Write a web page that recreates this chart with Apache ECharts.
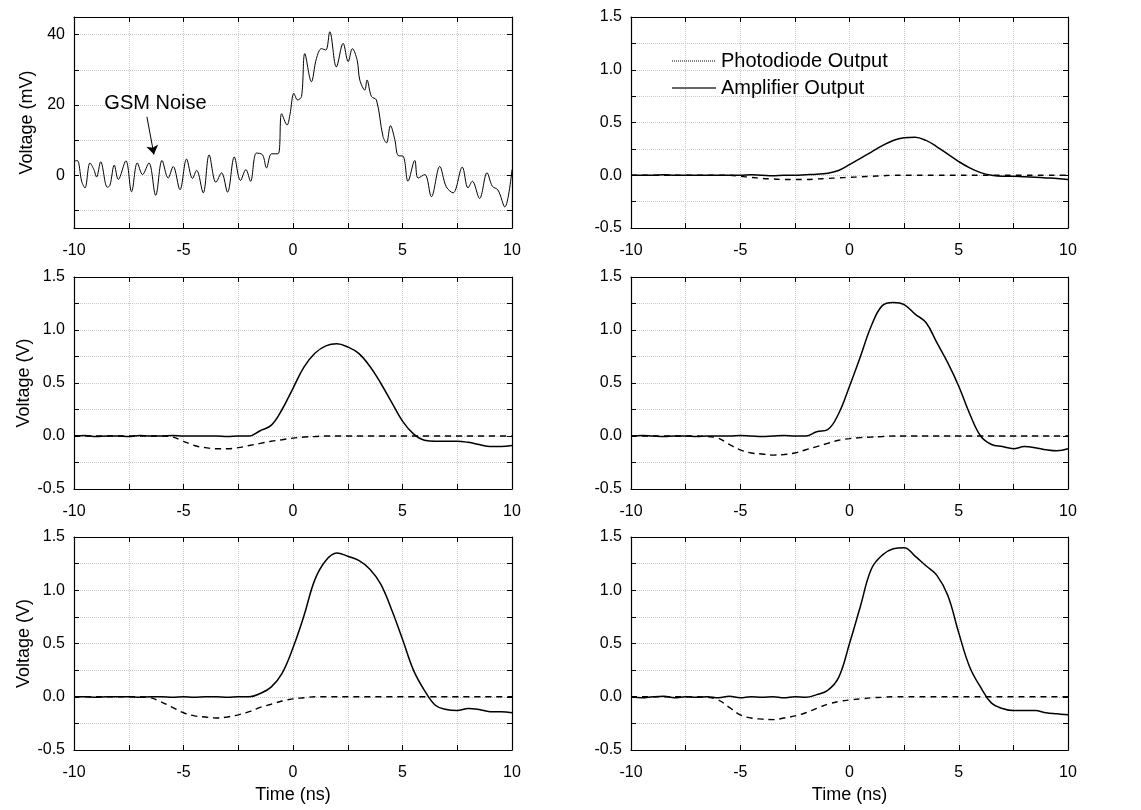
<!DOCTYPE html>
<html>
<head>
<meta charset="utf-8">
<script src="https://cdn.jsdelivr.net/npm/echarts@6/dist/echarts.min.js"></script>
<style>
html,body{margin:0;padding:0;background:#fff;}
#chart{width:1141px;height:810px;}
</style>
</head>
<body>
<div id="chart"></div>
<script>
// ---------- DATA ----------
const xTickLabels = ['-10', '-5', '0', '5', '10'];
const vTickLabels = ['-0.5', '0.0', '0.5', '1.0', '1.5'];
const mvTickLabels = ['0', '20', '40'];

// Panel 1: GSM noise trace (time ns, voltage mV)
const gsmTime = [-10.00,-9.85,-9.65,-9.50,-9.27,-9.09,-8.97,-8.78,-8.48,-8.36,-8.16,-7.98,-7.63,-7.37,-7.11,-6.87,-6.58,-6.27,-5.98,-5.70,-5.47,-5.16,-4.86,-4.59,-4.40,-4.10,-3.83,-3.52,-3.26,-2.99,-2.68,-2.40,-2.15,-1.94,-1.67,-1.39,-1.21,-0.98,-0.68,-0.52,-0.27,-0.14,0.04,0.21,0.39,0.54,0.84,1.07,1.30,1.50,1.68,1.98,2.29,2.52,2.71,2.93,3.05,3.28,3.38,3.58,3.81,4.11,4.27,4.45,4.65,4.80,5.03,5.25,5.56,5.71,6.02,6.32,6.70,7.00,7.31,7.73,7.99,8.19,8.52,8.86,9.10,9.36,9.67,10.00];
const gsmVolt = [4.0,4.2,-1.7,-3.6,3.5,1.6,-0.5,3.8,-3.4,-2.9,2.9,-1.2,4.1,-4.7,3.5,0.2,3.5,-5.7,4.2,-0.8,2.5,-4.1,4.6,-0.9,1.4,-5.0,5.8,-2.0,0.7,-4.8,5.2,-1.5,1.6,-1.7,6.3,5.8,2.1,6.1,6.1,17.5,14.3,17.2,23.3,21.4,22.4,34.6,26.6,33.2,36.0,35.6,40.8,30.8,37.5,32.3,36.0,32.7,27.1,24.2,27.1,22.4,21.4,11.0,9.2,14.1,10.1,5.6,5.4,-1.7,4.2,-0.8,0.2,-6.1,2.5,-3.3,-5.0,2.3,-3.6,-1.7,-6.6,0.7,-3.1,-4.2,-9.0,1.6];

// Panels 2-6: time base (ns)
const time = [-10,-9.5,-9,-8.5,-8,-7.5,-7,-6.5,-6,-5.5,-5,-4.5,-4,-3.5,-3,-2.5,-2,-1.5,-1,-0.5,0,0.5,1,1.5,2,2.5,3,3.5,4,4.5,5,5.5,6,6.5,7,7.5,8,8.5,9,9.5,10];

const amp2 = [0.0,0.0,0.0,0.005,0.0,0.0,0.0,0.0,0.0,0.0,0.0,0.005,0.0,-0.005,0.0,0.0,0.005,0.01,0.02,0.045,0.1,0.16,0.22,0.28,0.33,0.355,0.36,0.33,0.27,0.2,0.13,0.07,0.025,0.0,-0.01,-0.01,-0.015,-0.02,-0.025,-0.03,-0.04];
const pd2  = [0,0,0,0,0,0,0,0,0,0,-0.01,-0.02,-0.03,-0.035,-0.04,-0.04,-0.04,-0.035,-0.03,-0.025,-0.02,-0.015,-0.01,-0.005,0,0,0,0,0,0,0,0,0,0,0,0,0,0,0,0,0];

const amp3 = [0.0,0.005,-0.005,0.0,0.0,-0.005,0.005,0.0,0.0,0.005,0.0,0.0,0.0,0.0,-0.005,0.0,0.0,0.05,0.1,0.25,0.45,0.65,0.78,0.85,0.87,0.84,0.78,0.66,0.5,0.32,0.14,0.02,-0.04,-0.05,-0.05,-0.05,-0.06,-0.08,-0.1,-0.1,-0.09];
const pd3  = [0,0,0,0,0,0,0,0,0,-0.01,-0.05,-0.09,-0.11,-0.12,-0.12,-0.11,-0.09,-0.07,-0.05,-0.035,-0.02,-0.01,-0.005,0,0,0,0,0,0,0,0,0,0,0,0,0,0,0,0,0,0];

const amp4 = [0.0,0.005,0.0,-0.005,0.0,0.0,-0.005,0.0,0.0,0.0,0.005,0.0,-0.005,0.0,0.005,0.0,0.0,0.04,0.06,0.21,0.47,0.75,1.04,1.23,1.26,1.24,1.15,1.07,0.88,0.69,0.47,0.21,0.0,-0.08,-0.1,-0.12,-0.1,-0.11,-0.13,-0.14,-0.12];
const pd4  = [0,0,0,0,0,0,0,-0.005,-0.02,-0.08,-0.13,-0.16,-0.17,-0.18,-0.175,-0.16,-0.13,-0.1,-0.07,-0.04,-0.025,-0.015,-0.01,-0.005,0,0,0,0,0,0,0,0,0,0,0,0,0,0,0,0,0];

const amp5 = [0.0,0.0,-0.005,0.0,0.0,0.0,-0.005,0.0,0.0,-0.005,0.0,-0.005,0.0,0.0,-0.005,0.0,0.0,0.03,0.09,0.22,0.46,0.76,1.1,1.28,1.35,1.32,1.28,1.2,1.06,0.82,0.54,0.25,0.06,-0.08,-0.12,-0.13,-0.11,-0.12,-0.14,-0.14,-0.15];
const pd5  = [0,0,0,0,0,0,0,-0.01,-0.05,-0.1,-0.15,-0.18,-0.19,-0.2,-0.19,-0.17,-0.14,-0.1,-0.07,-0.04,-0.02,-0.01,0,0,0,0,0,0,0,0,0,0,0,0,0,0,0,0,0,0,0];

const amp6 = [0.0,-0.01,0.0,0.005,-0.01,0.0,-0.005,0.0,-0.01,0.005,-0.01,0.0,-0.005,0.0,-0.01,0.0,-0.005,0.02,0.06,0.18,0.5,0.85,1.2,1.33,1.39,1.4,1.32,1.23,1.14,0.95,0.6,0.28,0.09,-0.06,-0.11,-0.13,-0.13,-0.13,-0.15,-0.16,-0.17];
const pd6  = [0,0,0,0,0,0,0,-0.005,-0.03,-0.1,-0.17,-0.2,-0.21,-0.215,-0.2,-0.18,-0.15,-0.11,-0.07,-0.045,-0.03,-0.02,-0.01,-0.005,0,0,0,0,0,0,0,0,0,0,0,0,0,0,0,0,0];

const ampSets = [amp2, amp3, amp4, amp5, amp6];
const pdSets = [pd2, pd3, pd4, pd5, pd6];

// annotation
const noteText = 'GSM Noise';
const noteAt = [-6.28, 20.3];
const arrowFrom = [-6.67, 16.6];
const arrowTo = [-6.35, 5.9];

// ---------- LAYOUT ----------
const FONT = '"Liberation Sans", Arial, sans-serif';
const grids = [
  {left: 74, top: 17, width: 438, height: 211},
  {left: 631, top: 17, width: 437, height: 211},
  {left: 74, top: 277, width: 438, height: 212},
  {left: 631, top: 277, width: 437, height: 212},
  {left: 74, top: 537, width: 438, height: 213},
  {left: 631, top: 537, width: 437, height: 213}
];

const zip = (xs, ys) => xs.map((x, i) => [x, ys[i]]);
const gridLine = {show: true, lineStyle: {color: '#c8c8c8', type: 'dotted', width: 1}};
const tickIn = {show: true, inside: true, length: 5, lineStyle: {color: '#000', width: 1}};
const axLine = {show: true, onZero: false, lineStyle: {color: '#000', width: 1.2}};
const lbl = {color: '#000', fontFamily: FONT, fontSize: 16};
const nameStyle = {color: '#000', fontFamily: FONT, fontSize: 18};

const xAxes = [], yAxes = [], series = [];
grids.forEach((g, i) => {
  const bottomRow = i >= 4;
  xAxes.push({
    type: 'value', gridIndex: i, min: -10, max: 10, interval: 2.5, position: 'bottom',
    axisLine: axLine, axisTick: tickIn, splitLine: gridLine,
    axisLabel: Object.assign({}, lbl, {margin: 15, formatter: v => (xTickLabels.indexOf(String(v)) >= 0 ? String(v) : '')}),
    name: bottomRow ? 'Time (ns)' : '', nameLocation: 'middle', nameGap: 36,
    nameTextStyle: nameStyle
  });
  xAxes.push({
    type: 'value', gridIndex: i, min: -10, max: 10, interval: 2.5, position: 'top',
    axisLine: axLine, axisTick: tickIn, splitLine: {show: false}, axisLabel: {show: false}
  });
  const yName = (i === 0) ? 'Voltage (mV)' : ((i === 2 || i === 4) ? 'Voltage (V)' : '');
  if (i === 0) {
    yAxes.push({
      type: 'value', gridIndex: i, min: -15, max: 45, position: 'left',
      axisLine: axLine,
      axisTick: Object.assign({}, tickIn, {customValues: [-10, 0, 10, 20, 30, 40]}),
      splitLine: gridLine,
      axisLabel: Object.assign({}, lbl, {margin: 9, customValues: [0, 20, 40], formatter: v => (mvTickLabels.indexOf(String(v)) >= 0 ? String(v) : '')}),
      name: yName, nameLocation: 'middle', nameGap: 38,
      nameTextStyle: nameStyle
    });
    yAxes.push({
      type: 'value', gridIndex: i, min: -15, max: 45, position: 'right',
      axisLine: axLine,
      axisTick: Object.assign({}, tickIn, {customValues: [-10, 0, 10, 20, 30, 40]}),
      splitLine: {show: false}, axisLabel: {show: false}
    });
  } else {
    yAxes.push({
      type: 'value', gridIndex: i, min: -0.5, max: 1.5, interval: 0.25, position: 'left',
      axisLine: axLine, axisTick: tickIn, splitLine: gridLine,
      axisLabel: Object.assign({}, lbl, {margin: 9, formatter: v => {
        const s = v.toFixed(1); return (vTickLabels.indexOf(s) >= 0 && Math.abs(v * 2 - Math.round(v * 2)) < 1e-6) ? s : '';
      }}),
      name: yName, nameLocation: 'middle', nameGap: 38,
      nameTextStyle: nameStyle
    });
    yAxes.push({
      type: 'value', gridIndex: i, min: -0.5, max: 1.5, interval: 0.25, position: 'right',
      axisLine: axLine, axisTick: tickIn, splitLine: {show: false}, axisLabel: {show: false}
    });
  }
});

// Panel 1 series
series.push({
  name: 'GSM trace', type: 'line', xAxisIndex: 0, yAxisIndex: 0,
  data: zip(gsmTime, gsmVolt), showSymbol: false, symbol: 'none', smooth: 0.35,
  color: '#000', lineStyle: {color: '#000', width: 1}, silent: true,
  markPoint: {
    silent: true, symbol: 'circle', symbolSize: 0,
    data: [{coord: noteAt, value: noteText}],
    label: {show: true, position: 'inside', formatter: noteText, color: '#000', fontFamily: FONT, fontSize: 20}
  },
  markLine: {
    silent: true, symbol: ['none', 'arrow'], symbolSize: 9,
    lineStyle: {color: '#000', width: 1, type: 'solid'}, label: {show: false},
    data: [[{coord: arrowFrom}, {coord: arrowTo}]]
  }
});

// Panels 2-6
for (let k = 0; k < 5; k++) {
  const gi = k + 1;
  series.push({
    name: 'Photodiode Output', type: 'line', xAxisIndex: gi * 2, yAxisIndex: gi * 2,
    data: zip(time, pdSets[k]), symbol: 'none', showSymbol: false, smooth: 0.4, silent: true,
    color: '#000', itemStyle: {color: '#000'},
    lineStyle: {color: '#000', width: 1.4, type: [6, 5]}
  });
  series.push({
    name: 'Amplifier Output', type: 'line', xAxisIndex: gi * 2, yAxisIndex: gi * 2,
    data: zip(time, ampSets[k]), symbol: 'none', showSymbol: false, smooth: 0.4, silent: true,
    color: '#000', itemStyle: {color: '#000'},
    lineStyle: {color: '#000', width: 1.5, type: 'solid'}
  });
}

const chart = echarts.init(document.getElementById('chart'), null, {renderer: 'canvas'});
chart.setOption({
  animation: false,
  backgroundColor: '#fff',
  grid: grids,
  xAxis: xAxes,
  yAxis: yAxes,
  legend: {
    orient: 'vertical', left: 671, top: 51, right: 'auto', bottom: 'auto',
    itemWidth: 44, itemHeight: 14, itemGap: 7, padding: 0,
    selectedMode: false,
    itemStyle: {opacity: 0, borderWidth: 0},
    textStyle: {color: '#000', fontFamily: FONT, fontSize: 20, lineHeight: 20},
    data: [
      {name: 'Photodiode Output', itemStyle: {opacity: 0, borderWidth: 0}, lineStyle: {type: 'dotted', width: 1, color: '#000'}},
      {name: 'Amplifier Output', itemStyle: {opacity: 0, borderWidth: 0}, lineStyle: {type: 'solid', width: 2, color: '#666'}}
    ]
  },
  series: series
});
</script>
</body>
</html>
